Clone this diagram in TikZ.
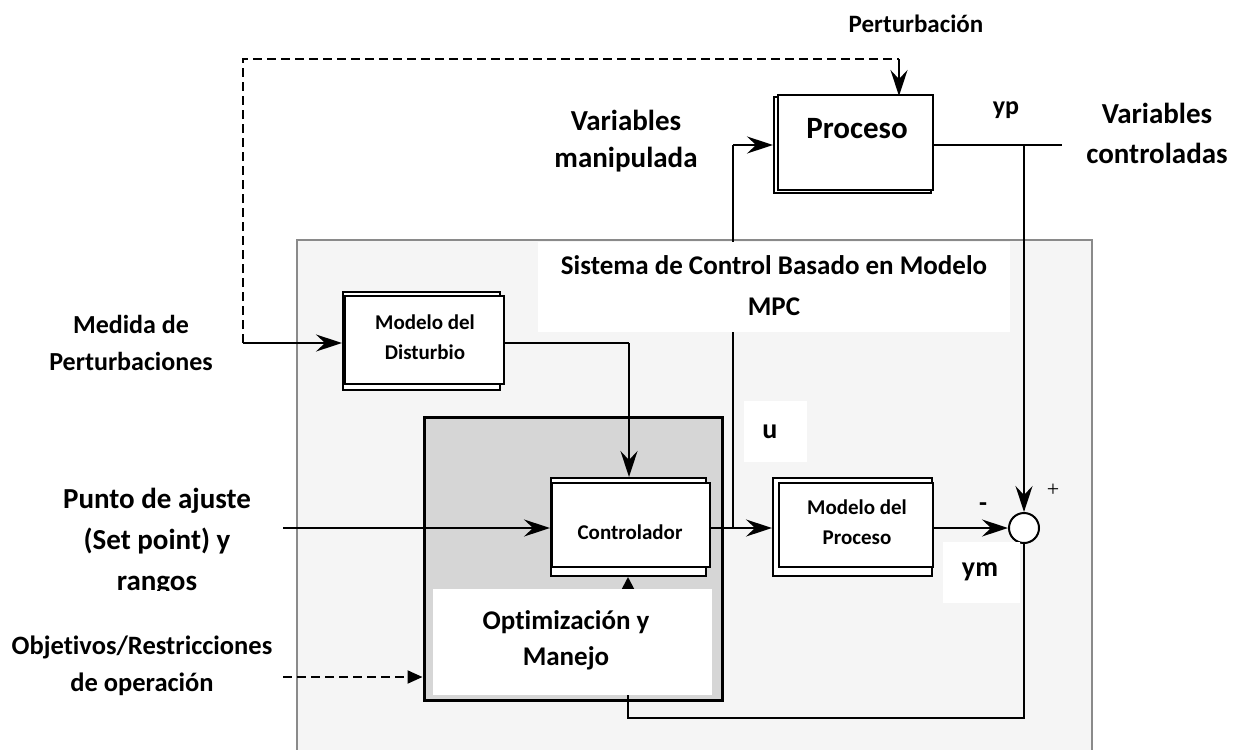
\documentclass[tikz,border=0pt]{standalone}
\usepackage{fontspec}
\setmainfont{Carlito}[Ligatures=NoCommon]
\newfontfamily\serfont{Liberation Serif}
\usetikzlibrary{arrows.meta,calc}
\definecolor{bordergray}{HTML}{8A8A8A}
\definecolor{panelgray}{HTML}{F5F5F5}
\definecolor{optgray}{HTML}{D6D6D6}
\begin{document}
\begin{tikzpicture}[x=1pt,y=-1pt,
  conn/.style={line width=2pt, black},
  arr/.style={conn, -{Stealth[length=26pt,width=17pt,inset=9pt]}},
  arrT/.style={conn, -{Triangle[length=13pt,width=13pt]}},
  dashline/.style={conn, dash pattern=on 9pt off 5pt},
  blockB/.style={draw, line width=2pt, fill=white, inner sep=0pt},
  blockF/.style={draw, line width=2.6pt, fill=white, inner sep=0pt},
  wbox/.style={fill=white, inner sep=0pt},
  lbl/.style={align=center, inner sep=0pt},
]
\clip (0,0) rectangle (1246,749);
\fill[white] (0,0) rectangle (1246,749);

% panels
\node[draw=bordergray, fill=panelgray, line width=2.5pt, minimum width=795pt, minimum height=530pt, inner sep=0pt] (mpc) at (694.5,505) {};
\node[draw, fill=optgray, line width=3pt, minimum width=298pt, minimum height=283pt, inner sep=0pt] (optbox) at (573,558.5) {};

% blocks (back copies)
\node[blockB, minimum width=157pt, minimum height=96pt] (procB) at (852.5,145) {};
\node[blockB, minimum width=157pt, minimum height=98pt] (distB) at (421.5,341) {};
\node[blockB, minimum width=155pt, minimum height=98pt] (ctrlB) at (628.5,527) {};
\node[blockB, minimum width=159pt, minimum height=98pt] (modB) at (852.5,527) {};
% blocks (front)
\node[blockF, minimum width=155pt, minimum height=95pt] (proc) at (855.5,142.5) {};
\node[blockF, minimum width=159pt, minimum height=88pt] (dist) at (424.5,340) {};
\node[blockF, minimum width=158pt, minimum height=84pt] (ctrl) at (631,525) {};
\node[blockF, minimum width=154pt, minimum height=84pt] (mod) at (856,525) {};
\node[draw, circle, line width=2pt, fill=white, minimum size=30pt, inner sep=0pt] (sum) at (1024,528) {};

% coordinates
\coordinate (dstart) at (243,343);
\coordinate (dtop) at (243,59);
\coordinate (ptop) at (899,59);
\coordinate (spin) at (283,528);
\coordinate (objin) at (283,677);
\coordinate (uj) at (733,528);
\coordinate (pin) at (733,145);
\coordinate (ypj) at (1024,145);
\coordinate (yend) at (1062,145);
\coordinate (dcorner) at (629,343);
\coordinate (fbl) at (628,718);

% connectors
\draw[dashline] (dstart) -- (dtop) -- (ptop);
\draw[arr] (ptop) -- (ptop |- procB.north);
\draw[arr] (dstart) -- (dstart -| distB.west);
\draw[conn] (dstart -| dist.east) -- (dcorner);
\draw[arr] (dcorner) -- (dcorner |- ctrlB.north);
\draw[arr] (spin) -- (spin -| ctrlB.west);
\draw[arr] (uj -| ctrl.east) -- (uj -| modB.west);
\draw[conn] (uj) -- (pin);
\draw[arr] (pin) -- (pin -| procB.west);
\draw[conn] (ypj -| proc.east) -- (yend);
\draw[arr] (ypj) -- (sum.north);
\draw[arr] (uj -| mod.east) -- (sum.west);
\draw[arrT] (sum.south) -- (sum.south |- fbl) -- (fbl) -- (fbl |- ctrlB.south);
\draw[dashline, -{Triangle[length=15pt,width=13pt]}] (objin) -- (objin -| optbox.west);

% white label boxes
\node[wbox, minimum width=472pt, minimum height=90pt] (sysbox) at (774,287) {};
\node[wbox, minimum width=63pt, minimum height=61pt] (ubox) at (775.5,431.5) {};
\node[wbox, minimum width=77pt, minimum height=61pt] (ymbox) at (981.5,572.5) {};
\node[wbox, minimum width=279pt, minimum height=106pt] (optw) at (572.5,642) {};

% texts in boxes
\node[lbl, font=\bfseries\fontsize{27}{41}\selectfont] (systxt) at (774,286) {Sistema de Control Basado en Modelo\\MPC};
\node[lbl, font=\bfseries\fontsize{28}{34}\selectfont] (utxt) at (770,432) {u};
\node[lbl, font=\bfseries\fontsize{28}{34}\selectfont] (ymtxt) at (980,572) {ym};
\node[lbl, font=\bfseries\fontsize{27}{36}\selectfont] (opttxt) at (566,640) {Optimización y\\Manejo};

\node[lbl, font=\bfseries\fontsize{31}{36}\selectfont] (proctxt) at (857,129) {Proceso};
\node[lbl, font=\bfseries\fontsize{21}{30}\selectfont] (disttxt) at (425,337) {Modelo del\\Disturbio};
\node[lbl, font=\bfseries\fontsize{21}{30}\selectfont] (ctrltxt) at (630,532) {Controlador};
\node[lbl, font=\bfseries\fontsize{21}{30}\selectfont] (modtxt) at (857,522) {Modelo del\\Proceso};

% free labels
\node[lbl, font=\bfseries\fontsize{25}{30}\selectfont] (perttxt) at (916,24) {Perturbación};
\node[lbl, font=\bfseries\fontsize{26}{30}\selectfont] (yptxt) at (1006,110) {yp};
\node[lbl, font=\bfseries\fontsize{29}{40}\selectfont] (vctxt) at (1157,133) {Variables\\controladas};
\node[lbl, font=\bfseries\fontsize{29}{37}\selectfont] (vmtxt) at (626,141) {Variables\\manipulada};
\node[lbl, font=\bfseries\fontsize{26}{37}\selectfont] (medtxt) at (131,343) {Medida de\\Perturbaciones};
\begin{scope}
\clip (0,0) rectangle (290,590);
\node[lbl, font=\bfseries\fontsize{29}{41}\selectfont] (sptxt) at (157,542) {Punto de ajuste\\(Set point) y\\rangos};
\end{scope}
\node[lbl, font=\bfseries\fontsize{26.5}{37}\selectfont] (objtxt) at (142,666) {Objetivos/Restricciones\\de operación};
\node[lbl, font=\bfseries\fontsize{26}{30}\selectfont] (minus) at (983,507) {-};
\node[lbl, font=\serfont\fontsize{22}{26}\selectfont] (plus) at (1053,490) {+};
\end{tikzpicture}
\end{document}
